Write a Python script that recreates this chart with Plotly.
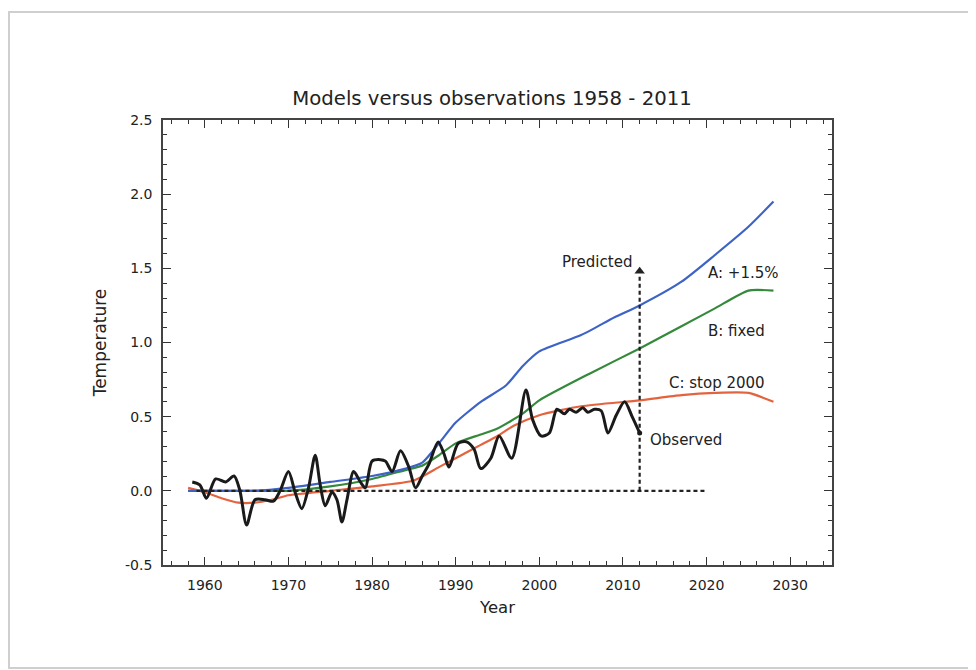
import plotly.graph_objects as go

# ---- data ----
obs_years = [1958.5, 1959.4, 1960.2, 1961.3, 1962.5, 1963.5, 1964.2, 1965.0, 1966.0, 1967.2,
             1968.2, 1969.0, 1970.0, 1970.8, 1971.6, 1972.4, 1973.2, 1973.8, 1974.4, 1975.2,
             1975.8, 1976.4, 1977.0, 1977.8, 1978.6, 1979.2, 1980.0, 1981.0, 1981.6, 1982.4,
             1983.4, 1984.4, 1985.2, 1986.0, 1986.8, 1987.9, 1988.6, 1989.2, 1990.3, 1991.3,
             1992.2, 1993.0, 1994.2, 1995.2, 1996.7, 1998.4, 1999.2, 2000.2, 2001.2, 2002.1,
             2003.0, 2003.6, 2004.4, 2005.2, 2005.8, 2006.6, 2007.4, 2008.2, 2009.2, 2010.2,
             2011.1, 2012.0]
obs_temp = [0.06, 0.04, -0.05, 0.08, 0.06, 0.10, 0.00, -0.23, -0.06, -0.06,
            -0.07, 0.00, 0.13, -0.01, -0.12, 0.02, 0.24, 0.04, -0.10, -0.01,
            -0.06, -0.21, -0.06, 0.13, 0.06, 0.02, 0.20, 0.21, 0.20, 0.13,
            0.27, 0.16, 0.02, 0.10, 0.18, 0.33, 0.25, 0.16, 0.32, 0.33,
            0.28, 0.15, 0.22, 0.37, 0.22, 0.68, 0.48, 0.37, 0.39, 0.55,
            0.52, 0.55, 0.53, 0.56, 0.53, 0.55, 0.54, 0.39, 0.51, 0.60,
            0.50, 0.39]

a_years = [1958, 1962, 1966, 1970, 1975, 1980, 1984, 1986, 1988, 1990, 1993, 1996, 1998,
           2000, 2005, 2009, 2012, 2017, 2021, 2025, 2028]
a_temp = [0.0, 0.0, 0.0, 0.02, 0.06, 0.10, 0.15, 0.19, 0.32, 0.46, 0.60, 0.71, 0.84,
          0.94, 1.05, 1.17, 1.25, 1.41, 1.59, 1.78, 1.95]

b_years = [1958, 1962, 1966, 1970, 1975, 1980, 1984, 1986, 1988, 1990, 1993, 1995, 1998,
           2000, 2006, 2012, 2017, 2021, 2025, 2028]
b_temp = [0.0, 0.0, 0.0, 0.0, 0.03, 0.08, 0.14, 0.17, 0.24, 0.32, 0.38, 0.42, 0.52,
          0.61, 0.79, 0.96, 1.11, 1.23, 1.35, 1.35]

c_years = [1958, 1960, 1962, 1964, 1966, 1968, 1970, 1975, 1980, 1985, 1988, 1990, 1993,
           1995, 1997, 2000, 2005, 2012, 2017, 2021, 2025, 2028]
c_temp = [0.02, -0.01, -0.05, -0.08, -0.08, -0.06, -0.03, 0.0, 0.03, 0.07, 0.16, 0.22, 0.31,
          0.37, 0.44, 0.51, 0.57, 0.61, 0.645, 0.66, 0.66, 0.60]

baseline_years = [1959, 2020]
baseline_temp = [0.0, 0.0]
pred_years = [2012, 2012]
pred_temp = [0.0, 1.45]
arrow_tip = 1.48

x_tickvals = [1960, 1970, 1980, 1990, 2000, 2010, 2020, 2030]
x_ticktext = ["1960", "1970", "1980", "1990", "2000", "2010", "2020", "2030"]
y_tickvals = [-0.5, 0.0, 0.5, 1.0, 1.5, 2.0, 2.5]
y_ticktext = ["-0.5", "0.0", "0.5", "1.0", "1.5", "2.0", "2.5"]

labels = ["Predicted", "A: +1.5%", "B: fixed", "C: stop 2000", "Observed"]
label_x = [2011.3, 2024.4, 2023.6, 2021.2, 2013.0]
label_y = [1.54, 1.47, 1.08, 0.73, 0.34]
label_anchor = ["right", "center", "center", "center", "left"]

BLUE = "#3d63c6"
GREEN = "#34893a"
RED = "#e4633f"
FONT = "DejaVu Sans"

# page has an 8px body margin; figure sized to fit the 976x670 window
W, H = 968, 662
L, R, T, B = 155, 144, 112, 105

fig = go.Figure()
fig.add_trace(go.Scatter(x=c_years, y=c_temp, mode="lines",
                         line=dict(color=RED, width=2.2, shape="spline", smoothing=0.6)))
fig.add_trace(go.Scatter(x=b_years, y=b_temp, mode="lines",
                         line=dict(color=GREEN, width=2.2, shape="spline", smoothing=0.6)))
fig.add_trace(go.Scatter(x=a_years, y=a_temp, mode="lines",
                         line=dict(color=BLUE, width=2.2, shape="spline", smoothing=0.6)))
fig.add_trace(go.Scatter(x=baseline_years, y=baseline_temp, mode="lines",
                         line=dict(color="#222", width=2.2, dash="4px,3px")))
fig.add_trace(go.Scatter(x=pred_years, y=pred_temp, mode="lines",
                         line=dict(color="#222", width=2.2, dash="4px,3px")))
fig.add_trace(go.Scatter(x=[pred_years[0]], y=[arrow_tip], mode="markers",
                         marker=dict(symbol="triangle-up", size=9, color="#222")))
fig.add_trace(go.Scatter(x=obs_years, y=obs_temp, mode="lines",
                         line=dict(color="#1a1a1a", width=3, shape="spline", smoothing=0.8)))
fig.add_trace(go.Scatter(x=[obs_years[-1]], y=[obs_temp[-1]], mode="markers",
                         marker=dict(size=5, color="#1a1a1a")))

for t, x, y, a in zip(labels, label_x, label_y, label_anchor):
    fig.add_annotation(x=x, y=y, text=t, showarrow=False, xanchor=a, yanchor="middle",
                       font=dict(family=FONT, size=15, color="#222"))

axis_common = dict(ticks="inside", tickcolor="#333", tickwidth=1.4,
                   showline=True, linecolor="#444", linewidth=1.6,
                   showgrid=False, zeroline=False,
                   tickfont=dict(family=FONT, size=14, color="#222"))

fig.update_layout(
    width=W, height=H,
    margin=dict(l=L, r=R, t=T, b=B),
    paper_bgcolor="white", plot_bgcolor="white",
    showlegend=False,
    title=dict(text="Models versus observations 1958 - 2011", x=0.5, xanchor="center",
               y=1 - 90 / H, yanchor="middle",
               font=dict(family=FONT, size=19.7, color="#222")),
    xaxis=dict(range=[1955, 2035], tickvals=x_tickvals, ticktext=x_ticktext, ticklen=8,
               mirror="ticks", ticklabelstandoff=6,
               minor=dict(dtick=2, tick0=1960, ticklen=4, ticks="inside", tickcolor="#333"),
               title=dict(text="Year", font=dict(family=FONT, size=16.5, color="#222"), standoff=10),
               **axis_common),
    yaxis=dict(range=[-0.5, 2.5], tickvals=y_tickvals, ticktext=y_ticktext, ticklen=8,
               mirror="ticks", ticklabelstandoff=6,
               minor=dict(dtick=0.1, ticklen=4, ticks="inside", tickcolor="#333"),
               title=dict(text="Temperature", font=dict(family=FONT, size=17, color="#222"), standoff=14),
               **axis_common),
    yaxis2=dict(range=[-0.5, 2.5], overlaying="y", side="right", matches="y",
                tickvals=y_tickvals, ticktext=y_ticktext, ticklen=8, ticklabelstandoff=5,
                minor=dict(dtick=0.1, ticklen=4, ticks="inside", tickcolor="#333"),
                **axis_common),
)

# outer light frame of the picture (pixel positions relative to the figure)
pw, ph = W - L - R, H - T - B
fig.add_shape(type="rect", xref="paper", yref="paper",
              x0=(1 - L) / pw, x1=(W + 20 - L) / pw,
              y0=(H - B - 660) / ph, y1=(H - B - 4) / ph,
              line=dict(color="#cfcfcf", width=2), fillcolor="rgba(0,0,0,0)", layer="below")

fig.write_html("out.html")
